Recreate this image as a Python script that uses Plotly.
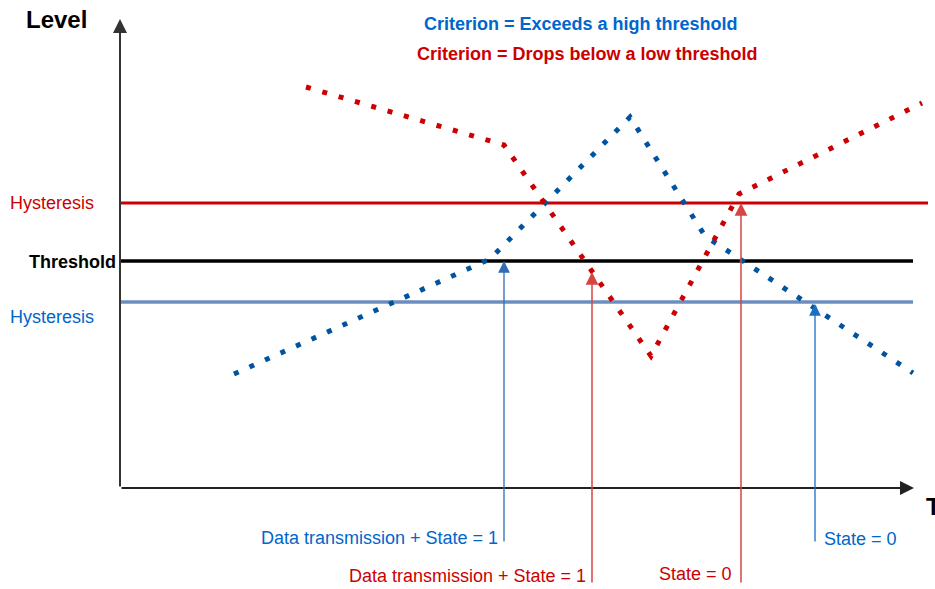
import plotly.graph_objects as go

# ── Data (diagram coordinates, y grows downward) ──
blue_x = [234, 490, 630, 705, 913]
blue_y = [374, 259, 117, 236, 373]
red_x = [306, 504, 651, 739, 922]
red_y = [87, 145, 356, 194, 103]

hyst_high = 203
threshold = 261
hyst_low = 302

trigger_blue_x = [504, 815]
trigger_blue_y = [threshold, hyst_low + 2]
trigger_red_x = [592, 741]
trigger_red_y = [threshold + 11, hyst_high]

BLUE = "#0066CC"
DARK_BLUE = "#00549F"
RED = "#CC0000"
ARROW_RED = "#D64541"
FONT = "Liberation Sans, Arial, sans-serif"

fig = go.Figure()

# horizontal reference lines
for y0, x1, col, w in [
    (hyst_high, 928, RED, 3),
    (threshold, 913, "#000000", 3.5),
    (hyst_low, 913, "#6C8EBF", 3.5),
]:
    fig.add_trace(go.Scatter(x=[120, x1], y=[y0, y0], mode="lines",
                             line=dict(color=col, width=w), hoverinfo="skip"))

# dotted signal lines
fig.add_trace(go.Scatter(x=blue_x, y=blue_y, mode="lines",
                         line=dict(color=DARK_BLUE, width=5, dash="5px,12px"),
                         hoverinfo="skip"))
fig.add_trace(go.Scatter(x=red_x, y=red_y, mode="lines",
                         line=dict(color=RED, width=5, dash="5px,12px"),
                         hoverinfo="skip"))

ann = []

# axes arrows
ann.append(dict(x=120, y=19, ax=120, ay=488, xref="x", yref="y", axref="x", ayref="y",
                showarrow=True, arrowhead=2, arrowsize=1.4, arrowwidth=2, arrowcolor="#333333", text=""))
ann.append(dict(x=914, y=488, ax=120, ay=488, xref="x", yref="y", axref="x", ayref="y",
                showarrow=True, arrowhead=2, arrowsize=1.4, arrowwidth=2, arrowcolor="#222222", text=""))

# trigger arrows
for x, y in zip(trigger_blue_x, trigger_blue_y):
    ann.append(dict(x=x, y=y, ax=x, ay=543, xref="x", yref="y", axref="x", ayref="y",
                    showarrow=True, arrowhead=2, arrowsize=1.8, arrowwidth=1.3,
                    arrowcolor="#1A6FC4" if x > 600 else "#2E6DB4", text=""))
for x, y in zip(trigger_red_x, trigger_red_y):
    ann.append(dict(x=x, y=y, ax=x, ay=584, xref="x", yref="y", axref="x", ayref="y",
                    showarrow=True, arrowhead=2, arrowsize=1.7, arrowwidth=1.5,
                    arrowcolor=ARROW_RED, text=""))


def label(text, x, y, color, size=18, bold=False, xanchor="left"):
    ann.append(dict(x=x, y=y, xref="x", yref="y", text=f"<b>{text}</b>" if bold else text,
                    showarrow=False, xanchor=xanchor, yanchor="middle",
                    font=dict(family=FONT, size=size, color=color)))


label("Level", 24, 19, "#000000", size=24, bold=True)
label("T", 924, 506, "#000000", size=24, bold=True)
label("Criterion = Exceeds a high threshold", 581, 24, BLUE, bold=True, xanchor="center")
label("Criterion = Drops below a low threshold", 587, 54, RED, bold=True, xanchor="center")
label("Hysteresis", 8, 203, RED)
label("Threshold", 118, 262, "#000000", bold=True, xanchor="right")
label("Hysteresis", 8, 317, BLUE)
label("Data transmission + State = 1", 500, 538, BLUE, xanchor="right")
label("Data transmission + State = 1", 588, 576, RED, xanchor="right")
label("State = 0", 734, 574, RED, xanchor="right")
label("State = 0", 822, 539, BLUE)

fig.update_layout(
    width=935, height=589,
    margin=dict(l=0, r=0, t=0, b=0),
    paper_bgcolor="white", plot_bgcolor="white",
    showlegend=False,
    xaxis=dict(range=[0, 935], visible=False, fixedrange=True),
    yaxis=dict(range=[589, 0], visible=False, fixedrange=True),
    annotations=ann,
)

fig.write_html("out.html", config={"displayModeBar": False},
               post_script="document.body.style.margin='0';")
